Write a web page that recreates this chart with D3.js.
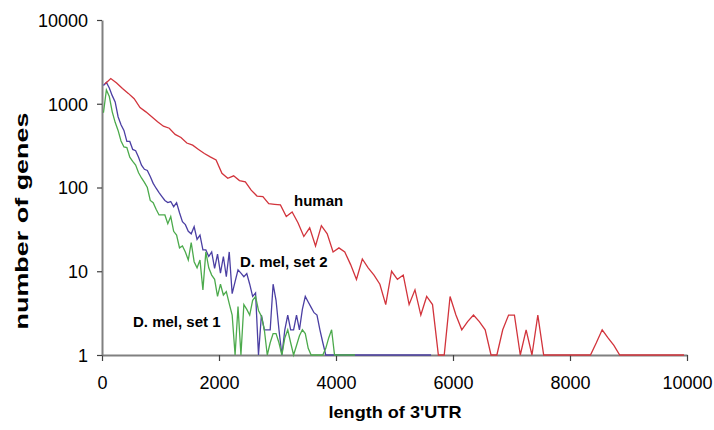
<!DOCTYPE html>
<html><head><meta charset="utf-8">
<script src="https://cdn.jsdelivr.net/npm/d3@7/dist/d3.min.js"></script>
<style>body{margin:0;background:#fff}svg{display:block}</style>
</head><body><svg id="c" width="714" height="430"></svg>
<script>
// human: 100-nt bins (centres 50,150,...)
const humanCounts = [1720,2000,1770,1520,1330,1150,900,800,700,610,
540,510,430,395,340,320,285,255,232,213,
148,129,138,121,117,93,79,78,64,63,
62,45,51,38,26,33,20,35,28,17,
19,17,12,8,14,11,9,7,4,10,
8,9,4,6,3,5,4,1,1,5,
3,2,2.5,3,2.5,2,1,1,2,3,
3,1,2,1,3,1,1,1,1,1,
1,1,1,1,1.4,2,1.6,1.3,1,1,
1,1,1,1,1,1,1,1,1,1];
// D. mel set 2: 50-nt bins (centres 25,75,...)
const mel2Counts = [1650,1800,1540,1250,1050,700,560,480,355,355,
285,275,230,185,165,160,135,112,98,87,
78,70,66,68,59,66,50,39,36,30,
28,34,24,27,18,18,15,17,10.8,16,
9.5,15,8.6,17,5.4,7.5,10.4,9.5,8.6,9.4,
7,5,5.5,1,3,2,2,2,7,4.5,
2,1,2,3,2,2,3,2,3.5,5,
4.3,3.7,3.2,3,2,1.4,1,1,1,1,
1,1,1,1,1,1,1,1,1,1,
1,1,1,1,1,1,1,1,1,1,
1,1,1,1,1,1,1,1,1,1,
1,1,1];
// D. mel set 1: 50-nt bins
const mel1Counts = [780,1460,1220,800,600,480,360,305,300,230,
205,185,150,130,115,100,70,66,55,47,
47,47,37,45,30,27,19,20,17,13.6,
22,13,11,13.6,6,17,11,9,8,5,
7,5.2,5.7,4.1,3,1,3.8,1,4,3.5,
3,4.5,5,3.4,2.9,2,1,1.4,1.8,1.8,
1.4,1,1.6,2,1.4,1,1.3,1.7,2,1.8,
1.2,1,1,1,1,1,1.2,1.6,2,1,
1,1,1,1,1,1,1];
const xTickValues = [0,2000,4000,6000,8000,10000];
const yTickValues = [1,10,100,1000,10000];
const seriesNames = ["human","D. mel, set 2","D. mel, set 1"];
const axisTitles = ["length of 3'UTR","number of genes"];

const svg = d3.select("#c");
const x = d3.scaleLinear().domain([0,10000]).range([102,687]);
const y = d3.scaleLog().domain([1,10000]).range([355,20]);
const font = "'Liberation Sans', Arial, sans-serif";

const gx = svg.append("g").attr("transform","translate(0,355)")
  .call(d3.axisBottom(x).tickValues(xTickValues).tickFormat(d3.format("d")).tickSize(6).tickSizeOuter(0).tickPadding(15));
const gy = svg.append("g").attr("transform","translate(102,0)")
  .call(d3.axisLeft(y).tickValues(yTickValues).tickFormat(d3.format("d")).tickSize(5).tickSizeOuter(0).tickPadding(9));
[gx,gy].forEach(g=>{
  g.select(".domain").attr("stroke","#808080").attr("stroke-width",2);
  g.selectAll(".tick line").attr("stroke","#404040").attr("stroke-width",1.2);
  g.selectAll(".tick text").attr("fill","#000").style("font-family",font).style("font-size","18px");
});
gy.selectAll(".tick text").attr("dy","0.36em");

const line = d3.line().x(d=>x(d[0])).y(d=>y(d[1]));
const mk = (arr, w, off) => arr.map((v,i)=>[off + w*i, v]);
const series = [
  {data: mk(mel2Counts,50,25), color:"#4b3fa3"},
  {data: mk(mel1Counts,50,25), color:"#4caa4c"},
  {data: mk(humanCounts,100,50), color:"#d2343c"}
];
series.forEach(s=>{
  svg.append("path").datum(s.data).attr("d",line)
    .attr("fill","none").attr("stroke",s.color).attr("stroke-width",1.3).attr("stroke-linejoin","miter");
});

const lbl = [[294,206],[240,267],[133,327]];
seriesNames.forEach((t,i)=>{
  svg.append("text").attr("x",lbl[i][0]).attr("y",lbl[i][1]).text(t)
    .style("font-family",font).style("font-size","15px").style("font-weight","bold");
});

svg.append("text").attr("x",395).attr("y",418).attr("text-anchor","middle")
  .attr("textLength",133).attr("lengthAdjust","spacingAndGlyphs")
  .style("font-family",font).style("font-size","17px").style("font-weight","bold").text(axisTitles[0]);
svg.append("text").attr("transform","translate(28,221) rotate(-90)").attr("text-anchor","middle")
  .attr("textLength",217).attr("lengthAdjust","spacingAndGlyphs")
  .style("font-family",font).style("font-size","18px").style("font-weight","bold").text(axisTitles[1]);
</script></body></html>
